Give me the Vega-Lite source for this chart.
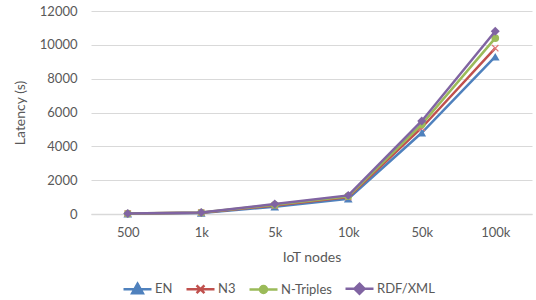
{
  "$schema": "https://vega.github.io/schema/vega-lite/v6.json",
  "width": 441,
  "height": 203,
  "autosize": {"type": "none"},
  "padding": {"left": 91, "top": 11, "right": 4, "bottom": 86},
  "config": {
    "view": {"stroke": null},
    "font": "Lato",
    "axis": {"labelFont": "Lato", "titleFont": "Lato", "labelColor": "#595959", "titleColor": "#595959", "labelFontSize": 13, "titleFontSize": 14, "titleFontWeight": "normal"}
  },
  "data": {
    "values": [
      {"nodes": "500", "format": "EN", "latency": 20},
      {"nodes": "1k", "format": "EN", "latency": 60},
      {"nodes": "5k", "format": "EN", "latency": 430},
      {"nodes": "10k", "format": "EN", "latency": 900},
      {"nodes": "50k", "format": "EN", "latency": 4800},
      {"nodes": "100k", "format": "EN", "latency": 9300},
      {"nodes": "500", "format": "N3", "latency": 25},
      {"nodes": "1k", "format": "N3", "latency": 80},
      {"nodes": "5k", "format": "N3", "latency": 500},
      {"nodes": "10k", "format": "N3", "latency": 1000},
      {"nodes": "50k", "format": "N3", "latency": 5100},
      {"nodes": "100k", "format": "N3", "latency": 9800},
      {"nodes": "500", "format": "N-Triples", "latency": 28},
      {"nodes": "1k", "format": "N-Triples", "latency": 85},
      {"nodes": "5k", "format": "N-Triples", "latency": 540},
      {"nodes": "10k", "format": "N-Triples", "latency": 1050},
      {"nodes": "50k", "format": "N-Triples", "latency": 5300},
      {"nodes": "100k", "format": "N-Triples", "latency": 10400},
      {"nodes": "500", "format": "RDF/XML", "latency": 30},
      {"nodes": "1k", "format": "RDF/XML", "latency": 90},
      {"nodes": "5k", "format": "RDF/XML", "latency": 590},
      {"nodes": "10k", "format": "RDF/XML", "latency": 1100},
      {"nodes": "50k", "format": "RDF/XML", "latency": 5500},
      {"nodes": "100k", "format": "RDF/XML", "latency": 10800}
    ]
  },
  "encoding": {
    "x": {
      "field": "nodes", "type": "ordinal", "sort": ["500", "1k", "5k", "10k", "50k", "100k"],
      "scale": {"type": "point", "padding": 0.5},
      "axis": {"title": "IoT nodes", "labelAngle": 0, "ticks": false, "domainColor": "#d9d9d9", "domainWidth": 1.5, "labelPadding": 12, "titlePadding": 11}
    },
    "y": {
      "field": "latency", "type": "quantitative",
      "scale": {"domain": [0, 12000]},
      "axis": {"title": "Latency (s)", "values": [0, 2000, 4000, 6000, 8000, 10000, 12000], "format": "d", "domain": false, "ticks": false, "gridColor": "#d9d9d9", "labelPadding": 14, "titlePadding": 12}
    },
    "color": {
      "field": "format", "type": "nominal",
      "sort": ["EN", "N3", "N-Triples", "RDF/XML"],
      "scale": {"domain": ["EN", "N3", "N-Triples", "RDF/XML"], "range": ["#4F81BD", "#C0504D", "#9BBB59", "#8064A2"]},
      "legend": {
        "title": null, "orient": "none", "direction": "horizontal",
        "legendX": 31, "legendY": 262,
        "symbolSize": 784, "symbolStrokeWidth": 2.5,
        "labelFont": "Lato", "labelFontSize": 13, "labelColor": "#595959",
        "columnPadding": 8, "labelOffset": 2,
        "encode": {
          "symbols": {
            "update": {
              "shape": {"signal": "datum.value === 'EN' ? 'M-1,0H1M0,-0.4L0.38,0.28L-0.38,0.28Z' : datum.value === 'N3' ? 'M-1,0H1M-0.28,-0.28L0.28,0.28M-0.28,0.28L0.28,-0.28' : datum.value === 'N-Triples' ? 'M-1,0H1M0.25,0A0.25,0.25 0 1,1 -0.25,0A0.25,0.25 0 1,1 0.25,0Z' : 'M-1,0H1M0,-0.36L0.36,0L0,0.36L-0.36,0Z'"},
              "stroke": {"scale": "color", "field": "value"},
              "fill": {"scale": "color", "field": "value"},
              "strokeWidth": {"value": 2.5},
              "opacity": {"value": 1}
            }
          }
        }
      }
    }
  },
  "layer": [
    {
      "transform": [{"filter": "datum.format === 'EN'"}],
      "layer": [
        {"mark": {"type": "line", "strokeWidth": 2.5}},
        {"mark": {"type": "point", "filled": true, "size": 75, "shape": "triangle-up", "opacity": 1}}
      ]
    },
    {
      "transform": [{"filter": "datum.format === 'N3'"}],
      "layer": [
        {"mark": {"type": "line", "strokeWidth": 2.5}},
        {"mark": {"type": "point", "filled": false, "size": 40, "shape": "M-1,-1L1,1M-1,1L1,-1", "opacity": 1, "strokeWidth": 1.3, "stroke": "#E07A78"}}
      ]
    },
    {
      "transform": [{"filter": "datum.format === 'N-Triples'"}],
      "layer": [
        {"mark": {"type": "line", "strokeWidth": 2.5}},
        {"mark": {"type": "point", "filled": true, "size": 60, "shape": "circle", "opacity": 1}}
      ]
    },
    {
      "transform": [{"filter": "datum.format === 'RDF/XML'"}],
      "layer": [
        {"mark": {"type": "line", "strokeWidth": 2.5}},
        {"mark": {"type": "point", "filled": true, "size": 80, "shape": "diamond", "opacity": 1}}
      ]
    }
  ]
}
